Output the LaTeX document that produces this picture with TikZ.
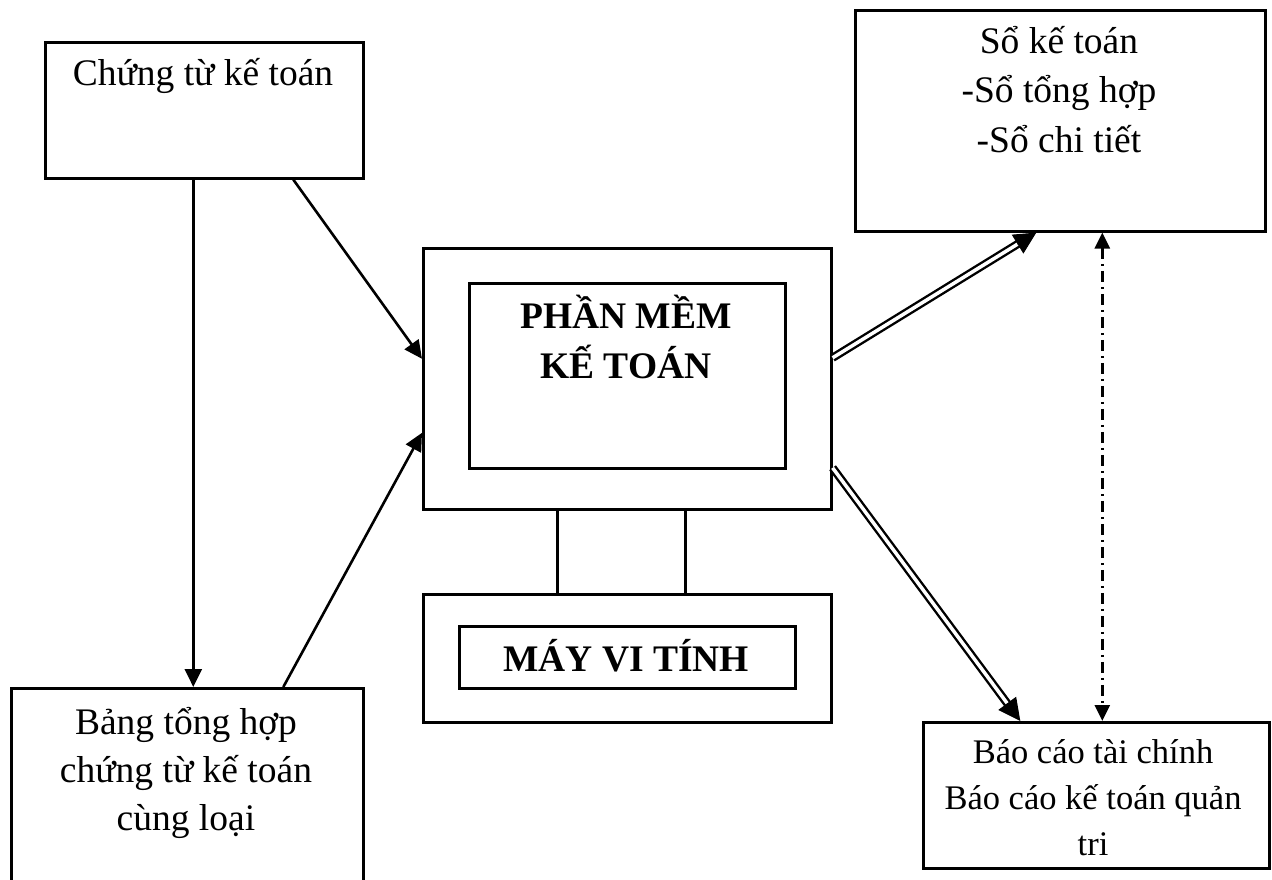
\documentclass[tikz,border=0pt]{standalone}
\usepackage{fontspec}
\setmainfont{Liberation Serif}
\usetikzlibrary{arrows.meta,positioning,calc}

\tikzset{
  box/.style={draw, line width=2.6pt, anchor=north west, inner sep=0pt},
  txt/.style={font=\fontsize{37.5}{48}\selectfont, align=center, anchor=base, inner sep=0pt},
  btxt/.style={txt, font=\fontsize{37.5}{50}\selectfont\bfseries},
  arr/.style={line width=2.6pt, -{Triangle[length=18pt,width=17pt]}},
  dbl/.style={double, double distance=3.5pt, line width=2.4pt, shorten >=18pt},
  dbltip/.style={line width=1pt, -{Triangle[length=22pt,width=22pt]}},
  dashdot/.style={line width=2.6pt, dash pattern=on 11pt off 5pt on 2pt off 5pt,
    {Triangle[length=16pt,width=15pt]}-{Triangle[length=16pt,width=15pt]}},
}

\begin{document}
\begin{tikzpicture}[x=1pt, y=-1pt]
    \useasboundingbox (0,0) rectangle (1272,879);

    % Input boxes
    \node[box, minimum width=318pt, minimum height=136pt] (ct) at (44,41) {};
    \node[txt] (cttext) at (203,85) {Chứng từ kế toán};
    \node[box, minimum width=352pt, minimum height=200pt] (bt) at (10,687) {};
    \node[txt] (bttext) at (186,830) {Bảng tổng hợp\\chứng từ kế toán\\cùng loại};

    % Computer: screen and base
    \node[box, minimum width=408pt, minimum height=261pt] (pc) at (422,247) {};
    \node[box, minimum width=316pt, minimum height=185pt] (pm) at (468,282) {};
    \node[btxt] (pmtext) at (626,378) {PHẦN MỀM\\KẾ TOÁN};
    \node[box, minimum width=408pt, minimum height=128pt] (mv) at (422,593) {};
    \node[box, minimum width=336pt, minimum height=62pt] (mvin) at (458,625) {};
    \node[btxt] (mvtext) at (626,671) {MÁY VI TÍNH};
    \draw[line width=2.6pt] ([xshift=-70pt]pc.south) -- ([xshift=-70pt]mv.north);
    \draw[line width=2.6pt] ([xshift=58pt]pc.south) -- ([xshift=58pt]mv.north);

    % Output boxes
    \node[box, minimum width=410pt, minimum height=221pt] (sk) at (854,9) {};
    \node[txt, font=\fontsize{37.5}{49.5}\selectfont] (sktext) at (1059,152) {Sổ kế toán\\-Sổ tổng hợp\\-Sổ chi tiết};
    \node[box, minimum width=346pt, minimum height=146pt] (bc) at (922,721) {};
    \node[txt, font=\fontsize{34.5}{46}\selectfont] (bctext) at (1093,855) {Báo cáo tài chính\\Báo cáo kế toán quản\\tri};

    % Connectors
    \draw[arr] ([xshift=-11pt]ct.south) -- ([xshift=-11pt]ct.south |- bt.north);
    \draw[arr] ([xshift=89pt]ct.south) -- ([yshift=20pt]pc.west);
    \draw[arr] ([xshift=96pt]bt.north) -- ([yshift=-54pt]pc.west);
    \coordinate (skin) at ([xshift=-24pt]sk.south);
    \coordinate (bcin) at ([xshift=-76pt]bc.north);
    \draw[dbl] ([yshift=21pt]pc.east) -- (skin);
    \draw[dbltip] ($(skin)!22pt!([yshift=21pt]pc.east)$) -- (skin);
    \draw[dbl] ([yshift=-89pt]pc.east) -- (bcin);
    \draw[dbltip] ($(bcin)!22pt!([yshift=-89pt]pc.east)$) -- (bcin);
    \draw[dashdot] ([xshift=42pt]sk.south) -- ([xshift=42pt]sk.south |- bc.north);
\end{tikzpicture}
\end{document}
